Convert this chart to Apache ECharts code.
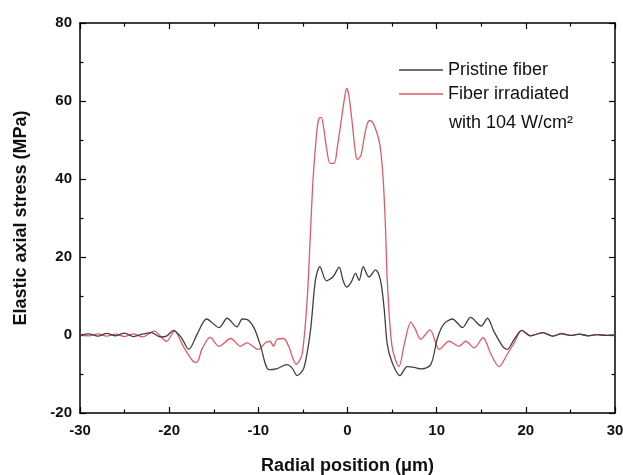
<!DOCTYPE html>
<html>
<head>
<meta charset="utf-8">
<script src="https://cdn.jsdelivr.net/npm/echarts@6/dist/echarts.min.js"></script>
<style>
html,body{margin:0;padding:0;background:#fff;}
#chart{width:623px;height:475px;}
</style>
</head>
<body>
<div id="chart"></div>
<script>
// Radial position (µm) and elastic axial stress (MPa)
var xPristine = [-30,-29,-28,-27,-26,-25,-24,-23,-22,-21,
  -20.3,-19.5,-18.6,-17.8,-16.8,-15.8,-14.4,-13.5,-12.4,-11.8,
  -11.3,-10.5,-9.8,-8.8,-7.9,-6.8,-6.2,-5.65,-4.9,-4.16,
  -3.6,-3.1,-2.36,-1.6,-0.94,-0.5,-0.1,0.4,0.9,1.3,
  1.76,2.4,3.15,3.7,4.1,4.46,5.0,5.88,6.7,7.5,
  8.2,9.33,10.1,10.8,11.76,12.9,13.8,15.0,15.7,16.4,
  17.4,17.9,18.7,19.55,20.5,21.9,23,24,25,26,
  27,28,29,30];
var yPristine = [0,0.3,-0.3,0.4,-0.2,0.5,-0.4,0.2,0.6,-0.5,
  -0.3,1.2,-0.8,-3.7,0.5,4.1,1.9,4.3,2.1,4.1,
  4.0,1.9,-2.4,-8.9,-8.6,-7.6,-8.5,-10.4,-8.5,1,
  14,17.5,13.9,15,17.4,14,12.3,13.5,15.8,14,
  17.5,14.9,16.7,14,7,-2.4,-7,-10.4,-8.1,-8.3,
  -8.7,-7.6,-0.7,2.8,4.1,1.9,4.5,2.3,4.3,1,
  -2.9,-3.7,-1.1,1.2,-0.2,0.6,-0.3,0.3,-0.1,0.2,
  -0.2,0.1,-0.1,0];

var xIrradiated = [-30,-29,-28,-27,-26,-25,-24,-23,
  -21.7,-20.3,-19.4,-18.4,-17.3,-16.9,-16.3,-15.4,-14.4,-13.1,
  -12.0,-11.3,-10.0,-9.2,-8.7,-8.3,-7.9,-7.15,-6.6,-5.75,
  -5.1,-4.53,-4.2,-3.86,-3.45,-3.2,-2.95,-2.7,-2.35,-1.95,-1.5,-1.15,-0.7,
  -0.35,-0.1,0.15,0.5,0.85,1.09,1.5,1.9,2.2,2.5,2.8,3.2,3.63,4.0,
  4.27,4.46,5.0,5.77,6.4,7.1,7.6,8.2,9.25,10.3,
  11.4,12.5,13.25,14.2,15.2,16.1,17.0,17.9,18.7,19.55,
  20.5,21.9,23,24,25,26,27,28,29,30];
var yIrradiated = [0.1,-0.2,0.3,-0.3,0.2,-0.4,0.3,-0.5,
  1,-1.6,1,-3,-6.8,-7,-3.5,-0.6,-2.9,-0.9,
  -2.9,-2,-3.7,-2,-1.6,-2.9,-1.1,-0.9,-2.9,-7.5,
  -5,8.9,24,40,52,55.5,55.8,53.5,48,44,44,48,55,
  60.5,63.2,61.5,55,47.5,45,46,51,54,55,54.6,52.5,48.8,40,
  27,14,-3,-8.1,-2,3.3,1.5,-1.1,1.3,-3.7,
  -1.6,-2.9,-1.6,-3.3,-0.7,-5,-8.1,-5,-2,1.2,
  -0.2,0.6,-0.3,0.4,-0.1,0.2,-0.2,0.1,-0.1,0];

var seriesNames = ['Pristine fiber', 'Fiber irradiated'];
var legendExtraLine = 'with 104 W/cm\u00B2';
var xTicks = [-30,-20,-10,0,10,20,30];
var yTicks = [-20,0,20,40,60,80];

function pairs(xs, ys){ return xs.map(function(x,i){ return [x, ys[i]]; }); }

var chart = echarts.init(document.getElementById('chart'), null, {renderer:'canvas'});
var axisLineStyle = {color:'#000', width:1.5};
var tickLabel = {fontFamily:'Liberation Sans', fontWeight:'bold', fontSize:15, color:'#111'};
function baseAxis(extra){
  var a = {
    axisLine:{show:true, onZero:false, lineStyle:axisLineStyle},
    axisTick:{show:true, inside:true, length:6, lineStyle:{color:'#000', width:1.2}},
    minorTick:{show:true, splitNumber:2, length:3.5, lineStyle:{color:'#000', width:1.2}},
    splitLine:{show:false},
    minorSplitLine:{show:false}
  };
  for (var k in extra) a[k] = extra[k];
  return a;
}
chart.setOption({
  animation:false,
  backgroundColor:'#fff',
  grid:{left:80, right:8, top:23, bottom:62, containLabel:false, outerBoundsMode:'none'},
  legend:{
    data:seriesNames,
    orient:'vertical',
    left:394, top:55,
    icon:'rect',
    itemWidth:44, itemHeight:1.5, itemGap:4,
    textStyle:{fontFamily:'Liberation Sans', fontSize:18, color:'#111', lineHeight:20}
  },
  graphic:[{
    type:'text', left:449, top:114,
    style:{text:legendExtraLine, font:'18px "Liberation Sans"', fill:'#111'}
  }],
  xAxis:[
    baseAxis({type:'value', position:'bottom', min:-30, max:30, interval:10,
      axisLabel:Object.assign({margin:10, formatter:function(v){return xTicks.indexOf(v)>=0?String(v):'';}}, tickLabel),
      name:'Radial position (\u03BCm)', nameLocation:'middle', nameGap:44,
      nameTextStyle:{fontFamily:'Liberation Sans', fontWeight:'bold', fontSize:18, color:'#111'}}),
    baseAxis({type:'value', position:'top', min:-30, max:30, interval:10, axisLabel:{show:false}})
  ],
  yAxis:[
    baseAxis({type:'value', position:'left', min:-20, max:80, interval:20,
      axisLabel:Object.assign({margin:8, formatter:function(v){return yTicks.indexOf(v)>=0?String(v):'';}}, tickLabel),
      name:'Elastic axial stress (MPa)', nameLocation:'middle', nameGap:50,
      nameTextStyle:{fontFamily:'Liberation Sans', fontWeight:'bold', fontSize:18, color:'#111'}}),
    baseAxis({type:'value', position:'right', min:-20, max:80, interval:20, axisLabel:{show:false}})
  ],
  series:[
    {name:seriesNames[0], type:'line', data:pairs(xPristine, yPristine), symbol:'none', smooth:0.3,
     lineStyle:{color:'#404040', width:1.3}, itemStyle:{color:'#404040'}, z:3},
    {name:seriesNames[1], type:'line', data:pairs(xIrradiated, yIrradiated), symbol:'none', smooth:0.3,
     lineStyle:{color:'#e05a66', width:1.3}, itemStyle:{color:'#e05a66'}, z:2}
  ]
});
</script>
</body>
</html>
